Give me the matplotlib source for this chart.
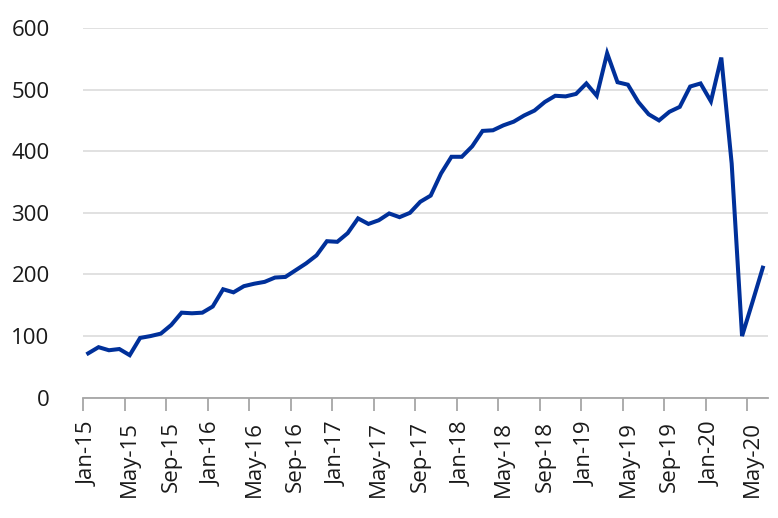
import matplotlib
matplotlib.use("Agg")
import matplotlib.pyplot as plt
import numpy as np

years = ["15", "16", "17", "18", "19", "20"]
month_names = ["Jan", "Feb", "Mar", "Apr", "May", "Jun", "Jul", "Aug", "Sep", "Oct", "Nov", "Dec"]
categories = [f"{m}-{y}" for y in years for m in month_names][:66]

values = [72, 82, 77, 79, 69, 97, 100, 104, 118, 138, 137, 138,
          148, 176, 171, 181, 185, 188, 195, 196, 207, 218, 231, 254,
          253, 267, 291, 282, 288, 299, 293, 300, 318, 328, 364, 391,
          391, 408, 433, 434, 442, 448, 458, 466, 480, 490, 489, 493,
          510, 490, 559, 512, 508, 480, 460, 450, 464, 472, 505, 510,
          481, 552, 380, 100, 155, 211]

y_ticks = [0, 100, 200, 300, 400, 500, 600]

plt.rcParams['font.family'] = ['Open Sans', 'DejaVu Sans']

fig = plt.figure(figsize=(7.78, 5.18), dpi=100)
ax = fig.add_axes([83/778, 1-397.7/518, (768-83)/778, (397.7-28)/518])

x = np.arange(len(values))
ax.plot(x, values, color='#00309a', linewidth=2.9, solid_joinstyle='miter', zorder=3)

ax.set_xlim(-0.5, len(values) - 0.5)
ax.set_ylim(0, 600)
ax.set_yticks(y_ticks)
ax.set_yticklabels([str(v) for v in y_ticks], fontsize=16, color='#1a1a1a')
ax.tick_params(axis='y', length=0, pad=24)
ax.yaxis.grid(True, color='#d9d9d9', linewidth=1.1)
ax.set_axisbelow(True)

label_idx = list(range(0, len(values), 4))
ax.set_xticks([i - 0.5 for i in label_idx])
ax.set_xticklabels([])
ax.tick_params(axis='x', which='major', length=9, width=1.3, color='#a6a6a6')
ax.set_xticks(label_idx, minor=True)
ax.set_xticklabels([categories[i] for i in label_idx], minor=True, rotation=90,
                   fontsize=16, color='#1a1a1a')
ax.tick_params(axis='x', which='minor', length=0, pad=17)

for s in ['top', 'right', 'left']:
    ax.spines[s].set_visible(False)
ax.spines['bottom'].set_color('#a6a6a6')
ax.spines['bottom'].set_linewidth(1.3)

fig.savefig("out.png", dpi=100)
